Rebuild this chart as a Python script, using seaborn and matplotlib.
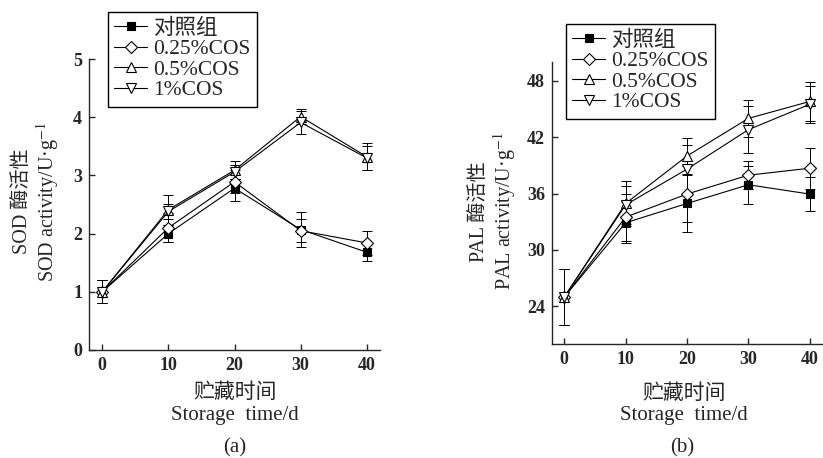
"""
壳寡糖处理对贮藏期 SOD / PAL 酶活性的影响
(a) SOD 活性  (b) PAL 活性, 均值 ± 标准差
"""
import matplotlib
matplotlib.use("Agg")
import matplotlib.pyplot as plt
import seaborn as sns

# ── data ──────────────────────────────────────────────────────────────────
days = [0, 10, 20, 30, 40]
groups = ["对照组", "0.25%COS", "0.5%COS", "1%COS"]

sod_ck = [1.0, 2.0, 2.78, 2.07, 1.68]
sod_025 = [1.0, 2.1, 2.89, 2.05, 1.84]
sod_05 = [1.0, 2.41, 3.09, 4.01, 3.32]
sod_1 = [1.0, 2.38, 3.06, 3.91, 3.30]
sod_ck_err = [0.2, 0.15, 0.22, 0.30, 0.15]
sod_025_err = [0.2, 0.25, 0.20, 0.20, 0.21]
sod_05_err = [0.2, 0.26, 0.16, 0.13, 0.23]
sod_1_err = [0.2, 0.13, 0.12, 0.20, 0.20]

pal_ck = [25.0, 32.9, 34.95, 36.94, 35.95]
pal_025 = [25.0, 33.5, 35.95, 37.96, 38.7]
pal_05 = [25.0, 34.95, 40.0, 44.0, 45.8]
pal_1 = [25.0, 34.8, 38.6, 42.8, 45.5]
pal_ck_err = [3.0, 2.2, 3.0, 2.0, 1.8]
pal_025_err = [3.0, 2.5, 3.0, 1.5, 2.2]
pal_05_err = [3.0, 2.4, 1.9, 2.0, 2.1]
pal_1_err = [3.0, 2.0, 2.6, 2.5, 2.0]

sod_ticks = [0, 1, 2, 3, 4, 5]
pal_ticks = [24, 30, 36, 42, 48]

# ── style ────────────────────────────────────────────────────────────────
sns.set_style("ticks")
plt.rcParams["font.family"] = ["Liberation Serif", "Noto Sans CJK SC", "DejaVu Sans"]
plt.rcParams["mathtext.fontset"] = "stix"

MARKERS = ["s", "D", "^", "v"]
FACES = ["black", "white", "white", "white"]
SIZES = [6, 6, 7, 7]


def draw_panel(ax, series, errors, ylim, yticks, ylabel, label_xy, legend_xy):
    for name, vals, errs, mk, fc, ms in zip(groups, series, errors, MARKERS, FACES, SIZES):
        ax.errorbar(days, vals, yerr=errs, fmt="none", ecolor="black",
                    elinewidth=0.7, capsize=3.5, capthick=0.7, zorder=2)
        sns.lineplot(x=days, y=vals, ax=ax, color="black", lw=0.8, marker=mk,
                     markersize=ms, markerfacecolor=fc, markeredgecolor="black",
                     markeredgewidth=0.8, label=name, zorder=3)

    ax.set_xlim(-2, 42)
    ax.set_ylim(*ylim)
    ax.set_xticks(days)
    ax.set_yticks(yticks)
    ax.tick_params(direction="in", length=4, width=1.0, labelsize=13, pad=5)
    for lab in ax.get_xticklabels() + ax.get_yticklabels():
        lab.set_fontweight("bold")
    sns.despine(ax=ax)
    for s in ["left", "bottom"]:
        ax.spines[s].set_linewidth(1.0)

    ax.set_xlabel("贮藏时间\nStorage  time/d", fontsize=15, linespacing=1.2, va="center")
    ax.xaxis.set_label_coords(*label_xy[0])
    ax.set_ylabel(ylabel, fontsize=14.5, linespacing=1.1, va="center")
    ax.yaxis.set_label_coords(*label_xy[1])

    leg = ax.legend(loc="upper left", bbox_to_anchor=legend_xy,
                    bbox_transform=ax.figure.transFigure, fontsize=15.5,
                    frameon=True, fancybox=False, framealpha=1, edgecolor="black",
                    handlelength=1.5, handletextpad=0.3, labelspacing=0.02,
                    borderpad=0.3, borderaxespad=0)
    leg.get_frame().set_linewidth(1.0)


fig = plt.figure(figsize=(8.23, 4.58), dpi=100)
ax_a = fig.add_axes([89 / 823, 1 - 350 / 458, 291 / 823, 291 / 458])
ax_b = fig.add_axes([552 / 823, 1 - 344 / 458, 270 / 823, 282 / 458])

draw_panel(ax_a, [sod_ck, sod_025, sod_05, sod_1],
           [sod_ck_err, sod_025_err, sod_05_err, sod_1_err],
           (0, 5), sod_ticks, "SOD 酶活性\nSOD activity/U·g$^{-1}$",
           ((0.502, -0.187), (-0.18, 0.51)), (108 / 823, 1 - 12 / 458))
draw_panel(ax_b, [pal_ck, pal_025, pal_05, pal_1],
           [pal_ck_err, pal_025_err, pal_05_err, pal_1_err],
           (20, 50), pal_ticks, "PAL 酶活性\nPAL activity/U·g$^{-1}$",
           ((0.489, -0.215), (-0.215, 0.47)), (566 / 823, 1 - 24 / 458))

fig.text(235 / 823, 1 - 448 / 458, "(a)", ha="center", va="center", fontsize=15)
fig.text(682 / 823, 1 - 448 / 458, "(b)", ha="center", va="center", fontsize=15)

fig.savefig("out.png", dpi=100)
plt.close(fig)
